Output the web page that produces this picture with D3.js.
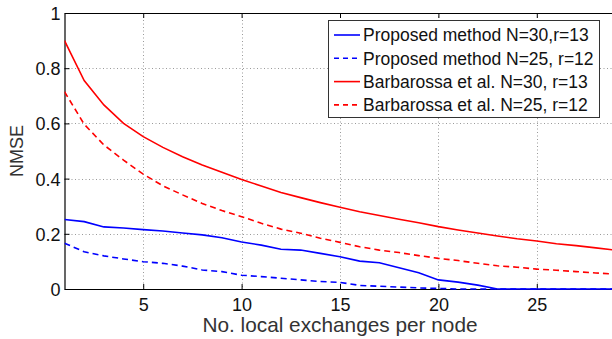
<!DOCTYPE html>
<html><head><meta charset="utf-8">
<script src="https://cdn.jsdelivr.net/npm/d3@7"></script>
<style>body{margin:0;background:#fff}svg{display:block}text{font-family:"Liberation Sans",Arial,sans-serif}</style>
</head><body>
<script>
const xs = d3.range(1, 30);
const propN30 = [0.252,0.244,0.225,0.221,0.215,0.210,0.203,0.196,0.186,0.170,0.159,0.144,0.141,0.129,0.117,0.101,0.095,0.077,0.059,0.033,0.025,0.014,0,0,0,0,0,0,0];
const propN25 = [0.166,0.135,0.120,0.109,0.099,0.093,0.083,0.069,0.063,0.050,0.045,0.039,0.033,0.027,0.024,0.013,0.010,0.007,0.004,0.002,0,0,0,0,0,0,0,0,0];
const barbN30 = [0.900,0.755,0.667,0.600,0.552,0.513,0.479,0.449,0.423,0.397,0.373,0.350,0.331,0.313,0.296,0.280,0.266,0.253,0.240,0.226,0.214,0.203,0.192,0.182,0.174,0.164,0.157,0.149,0.141];
const barbN25 = [0.715,0.597,0.522,0.467,0.416,0.374,0.341,0.310,0.284,0.262,0.238,0.217,0.202,0.184,0.169,0.153,0.141,0.132,0.121,0.111,0.103,0.093,0.084,0.079,0.072,0.068,0.063,0.058,0.054];
const xTicks = [5,10,15,20,25];
const yTicks = [0,0.2,0.4,0.6,0.8,1];
const series = [
  {name:"Proposed method N=30,r=13", values:propN30, color:"#0000ff", dash:null},
  {name:"Proposed method N=25, r=12", values:propN25, color:"#0000ff", dash:"6,4"},
  {name:"Barbarossa et al. N=30, r=13", values:barbN30, color:"#ff0000", dash:null},
  {name:"Barbarossa et al. N=25, r=12", values:barbN25, color:"#ff0000", dash:"6,4"}
];

const W=612,H=339;
const L=64.5,R=615.5,T=13,B=289;
const svg=d3.select("body").append("svg").attr("width",W).attr("height",H);
const x=d3.scaleLinear().domain([1,29]).range([L,R]);
const y=d3.scaleLinear().domain([0,1]).range([B,T]);

svg.append("defs").append("clipPath").attr("id","clip").append("rect")
  .attr("x",L).attr("y",T-1).attr("width",R-L).attr("height",B-T+2);

// grid
const g=svg.append("g");
g.selectAll(".gx").data(xTicks).join("line")
  .attr("x1",d=>Math.round(x(d))+0.5).attr("x2",d=>Math.round(x(d))+0.5)
  .attr("y1",T).attr("y2",B).attr("stroke","#9a9a9a").attr("stroke-width",1).attr("stroke-dasharray","1,2.5");
g.selectAll(".gy").data(yTicks.filter(d=>d>0&&d<1)).join("line")
  .attr("y1",d=>Math.round(y(d))+0.5).attr("y2",d=>Math.round(y(d))+0.5)
  .attr("x1",L).attr("x2",R).attr("stroke","#9a9a9a").attr("stroke-width",1).attr("stroke-dasharray","1,2.5");

// axes
const ax=svg.append("g").attr("transform",`translate(0,${B})`)
  .call(d3.axisBottom(x).tickValues(xTicks).tickSizeInner(-5).tickSizeOuter(0).tickPadding(9));
const axTop=svg.append("g").attr("transform",`translate(0,${T})`)
  .call(d3.axisTop(x).tickValues(xTicks).tickSizeInner(-5).tickSizeOuter(0).tickFormat(""));
const ay=svg.append("g").attr("transform",`translate(${L},0)`)
  .call(d3.axisLeft(y).tickValues(yTicks).tickSizeInner(-5).tickSizeOuter(0).tickPadding(4).tickFormat(d3.format("~g")));
[ax,axTop,ay].forEach(a=>{
  a.select(".domain").attr("stroke","#000").attr("stroke-width",1.2);
  a.selectAll(".tick line").attr("stroke","#000");
  a.selectAll("text").attr("font-size",18).attr("fill","#111").style("font-family","'Liberation Sans',Arial,sans-serif");
});
ay.selectAll(".tick text").attr("dy","0.36em");

// lines
const line=d3.line().x((d,i)=>x(xs[i])).y(d=>y(d));
const lg=svg.append("g").attr("clip-path","url(#clip)");
series.forEach(s=>{
  lg.append("path").attr("d",line(s.values)).attr("fill","none")
    .attr("stroke",s.color).attr("stroke-width",1.6)
    .attr("stroke-dasharray",s.dash);
});

// labels
svg.append("text").attr("x",(L+R)/2).attr("y",332).attr("text-anchor","middle")
  .attr("font-size",20.8).attr("fill","#333").text("No. local exchanges per node");
svg.append("text").attr("transform",`translate(23,${(T+B)/2}) rotate(-90)`).attr("text-anchor","middle")
  .attr("font-size",18).attr("fill","#333").text("NMSE");

// legend
const leg=svg.append("g");
leg.append("rect").attr("x",328.5).attr("y",20.5).attr("width",271).attr("height",97)
  .attr("fill","#fff").attr("stroke","#333").attr("stroke-width",1);
series.forEach((s,i)=>{
  const yy=35+i*23.3;
  leg.append("line").attr("x1",334).attr("x2",360).attr("y1",yy).attr("y2",yy)
    .attr("stroke",s.color).attr("stroke-width",1.6).attr("stroke-dasharray",s.dash?"5,4":null);
  leg.append("text").attr("x",363).attr("y",yy).attr("dy","0.36em")
    .attr("font-size",17.5).attr("fill","#111").text(s.name);
});
</script>
</body></html>
